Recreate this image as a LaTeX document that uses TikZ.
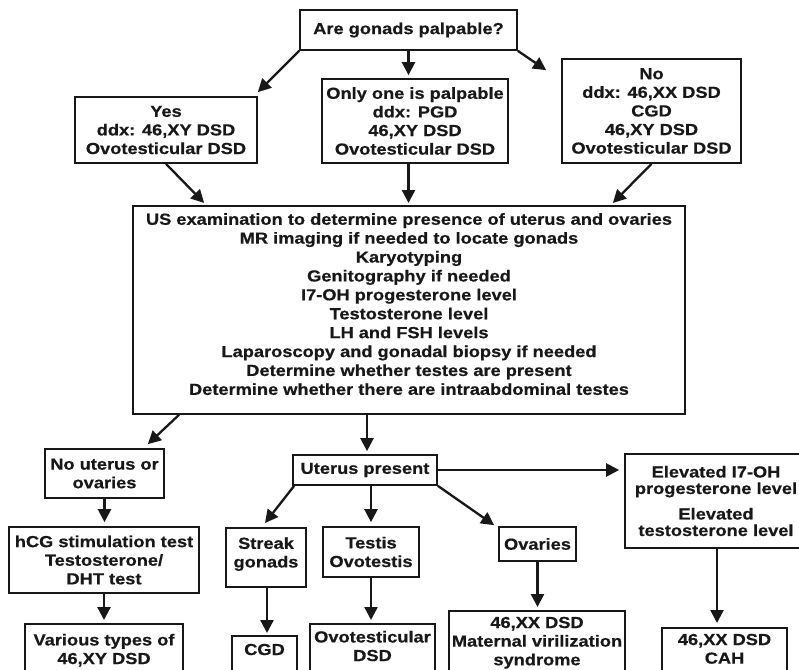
\documentclass[tikz,border=0pt]{standalone}
\usepackage{fontspec}
\newfontfamily\dfont{Liberation Sans}[FakeStretch=1.14, FakeBold=0.5]
\usetikzlibrary{arrows.meta,calc}
\definecolor{ink}{RGB}{24,24,24}
\tikzset{
  box/.style={draw=ink, text=ink, line width=1.7pt, inner sep=0pt, align=center,
    font=\dfont\bfseries\fontsize{16}{18.6}\selectfont},
  cbox/.style={box, minimum width=#1},
  tbox/.style={box, anchor=north, minimum width=#1, text depth=46pt},
  arr/.style={draw=ink, line width=2.3pt, -{Triangle[length=13pt,width=13pt]}},
}
\begin{document}
\begin{tikzpicture}[x=1pt,y=-1pt]
\useasboundingbox[fill=white] (0,0) rectangle (799,669);
\clip (0,0) rectangle (799,669);

% top row
\node[cbox=217pt, minimum height=40pt] (q) at (408.5,30) {Are gonads palpable?};
\node[cbox=182pt, minimum height=66pt] (yes) at (166,130) {Yes\\ddx: 46,XY DSD\\Ovotesticular DSD};
\node[cbox=186pt, minimum height=84pt] (one) at (415,121) {Only one is palpable\\ddx: PGD\\46,XY DSD\\Ovotesticular DSD};
\node[cbox=179pt, minimum height=104pt] (no) at (651.5,111) {No\\ddx: 46,XX DSD\\CGD\\46,XY DSD\\Ovotesticular DSD};

% big box
\node[box, anchor=north, minimum width=552pt, text height=189pt, text depth=19pt,
      font=\dfont\bfseries\fontsize{16}{18.9}\selectfont] (big) at (409,205)
 {US examination to determine presence of uterus and ovaries\\
  MR imaging if needed to locate gonads\\
  Karyotyping\\
  Genitography if needed\\
  I7-OH progesterone level\\
  Testosterone level\\
  LH and FSH levels\\
  Laparoscopy and gonadal biopsy if needed\\
  Determine whether testes are present\\
  Determine whether there are intraabdominal testes};

% left branch
\node[cbox=119pt, minimum height=49pt] (nout) at (104.5,473.5) {No uterus or\\ovaries};
\node[cbox=190pt, minimum height=66pt] (hcg) at (104,560) {hCG stimulation test\\Testosterone/\\DHT test};
\node[tbox=158pt, inner ysep=10pt] (var) at (104,623) {Various types of\\46,XY DSD};

% middle branch
\node[cbox=144pt, minimum height=30pt] (utp) at (365,470) {Uterus present};
\node[box, anchor=north, minimum width=80pt, text height=39.6pt, text depth=19.4pt] (streak) at (266,527) {Streak\\gonads};
\node[cbox=96pt, minimum height=50pt] (testis) at (371,552) {Testis\\Ovotestis};
\node[cbox=77pt, minimum height=34pt] (ovar) at (537.5,544) {Ovaries};
\node[cbox=182pt, minimum height=94pt, font=\dfont\bfseries\fontsize{16}{16.5}\selectfont] (elev) at (716,501)
 {Elevated I7-OH\\progesterone level\\[9pt]Elevated\\testosterone level};

% bottom row
\node[tbox=65pt, inner ysep=8pt] (cgd) at (264.5,635) {CGD};
\node[tbox=125pt, inner ysep=7pt] (ovot) at (372.5,623) {Ovotesticular\\DSD};
\node[tbox=176pt, inner ysep=6pt] (mat) at (537,610) {46,XX DSD\\Maternal virilization\\syndrome};
\node[tbox=125pt, inner ysep=6pt] (cah) at (724.5,627) {46,XX DSD\\CAH};

% connectors
\draw[arr] (q.south west) -- ($(yes.north east)+(0,-4)$);
\draw[arr] (q.south) -- ($(q.south |- one.north)+(0,-3)$);
\draw[arr] (q.south east) -- ($(no.north west)+(-15,12)$);
\draw[arr] (yes.south) -- ($(big.north west)+(72,-2)$);
\draw[arr] (one.south -| q.south) -- ($(q.south |- big.north)+(0,-2)$);
\draw[arr] (no.south) -- ($(big.north east)+(-73,-2)$);
\draw[arr] ($(big.south west)+(47,0)$) -- ($(nout.north east)+(-17,-4)$);
\draw[arr] ($(big.south)+(-42,0)$) -- ($(utp.north)+(2,-3)$);
\draw[arr] (nout.south) -- ($(nout.south |- hcg.north)+(0,-4)$);
\draw[arr] (hcg.south) -- ($(var.north)+(0,-3)$);
\draw[arr] ($(utp.south west)+(2,0)$) -- ($(streak.north)+(-1,-4)$);
\draw[arr] (testis.north |- utp.south) -- ($(testis.north)+(0,-4)$);
\draw[arr] (utp.south east) -- ($(ovar.north west)+(-4,-1)$);
\draw[arr] (utp.east) -- ($(utp.east -| elev.west)+(-5,0)$);
\draw[arr] ($(streak.south)+(1,0)$) -- ($(streak.south |- cgd.north)+(1,-2)$);
\draw[arr] (testis.south) -- ($(testis.south |- ovot.north)+(0,-3)$);
\draw[arr] (ovar.south) -- ($(ovar.south |- mat.north)+(0,-3)$);
\draw[arr] ($(elev.south)+(1,0)$) -- ($(elev.south |- cah.north)+(1,-4)$);
\end{tikzpicture}
\end{document}
